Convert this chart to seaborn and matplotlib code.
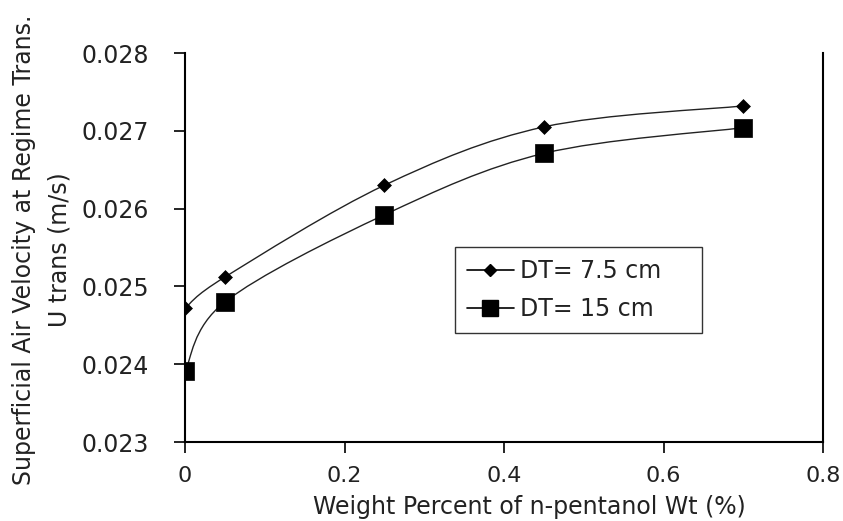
import numpy as np
import pandas as pd
import matplotlib
matplotlib.use("Agg")
import matplotlib.pyplot as plt
from matplotlib.path import Path
from matplotlib.patches import PathPatch
from matplotlib.lines import Line2D
import seaborn as sns

# ---- data ----
wt_percent = [0.0, 0.05, 0.25, 0.45, 0.70]
u_dt_7_5 = [0.02472, 0.02512, 0.02630, 0.02705, 0.02732]
u_dt_15 = [0.02391, 0.02480, 0.02592, 0.02671, 0.02704]
series_labels = ["DT= 7.5 cm", "DT= 15 cm"]
x_ticks = [0, 0.2, 0.4, 0.6, 0.8]
x_tick_labels = ["0", "0.2", "0.4", "0.6", "0.8"]
y_ticks = [0.023, 0.024, 0.025, 0.026, 0.027, 0.028]
y_tick_labels = ["0.023", "0.024", "0.025", "0.026", "0.027", "0.028"]

sns.set_theme(style="white")
plt.rcParams["font.family"] = ["DejaVu Sans"]

fig = plt.figure(figsize=(8.43, 5.21), dpi=100)
ax = fig.add_axes([185/843, 79/521, 638/843, 389/521])


def smooth_path(xs, ys):
    pts = np.column_stack([xs, ys]).astype(float)
    n = len(pts)
    verts = [pts[0]]
    codes = [Path.MOVETO]
    for i in range(n - 1):
        p_prev = pts[i - 1] if i > 0 else pts[i]
        p0 = pts[i]
        p1 = pts[i + 1]
        p_next = pts[i + 2] if i + 2 < n else pts[i + 1]
        c1 = p0 + (p1 - p_prev) / 6.0
        c2 = p1 - (p_next - p0) / 6.0
        verts += [c1, c2, p1]
        codes += [Path.CURVE4] * 3
    return Path(verts, codes)


for ys in (u_dt_7_5, u_dt_15):
    ax.add_patch(PathPatch(smooth_path(wt_percent, ys), facecolor="none",
                           edgecolor="#222222", lw=1.0, zorder=2))

df1 = pd.DataFrame({"x": wt_percent, "y": u_dt_7_5})
df2 = pd.DataFrame({"x": wt_percent, "y": u_dt_15})
sns.scatterplot(data=df1, x="x", y="y", ax=ax, marker="D", s=50,
                color="black", edgecolor="black", linewidth=0.5, zorder=3,
                legend=False)
sns.scatterplot(data=df2, x="x", y="y", ax=ax, marker="s", s=150,
                color="black", edgecolor="black", linewidth=0.5, zorder=3,
                legend=False)

ax.set_xlim(0, 0.8)
ax.set_ylim(0.023, 0.028)
ax.set_xticks(x_ticks)
ax.set_xticklabels(x_tick_labels)
ax.set_yticks(y_ticks)
ax.set_yticklabels(y_tick_labels)
ax.set_xlabel("")
ax.set_ylabel("")

for side in ("left", "bottom", "right"):
    ax.spines[side].set_visible(True)
    ax.spines[side].set_color("black")
    ax.spines[side].set_linewidth(1.5)
ax.spines["top"].set_visible(False)

ax.tick_params(axis="both", which="major", direction="out", length=8,
               width=1.2, color="black", labelsize=17, labelcolor="#222222")
ax.tick_params(axis="y", pad=18, left=True)
ax.tick_params(axis="x", pad=9, bottom=True, labelsize=16)

fig.text(529/843, 1 - 507/521,
         "Weight Percent of n-pentanol Wt (%)", ha="center", va="center",
         fontsize=17, color="#222222")
fig.text(24/843, 1 - 250/521, "Superficial Air Velocity at Regime Trans.",
         rotation=90, ha="center", va="center", fontsize=17, color="#222222")
fig.text(60/843, 1 - 250/521, "U trans (m/s)",
         rotation=90, ha="center", va="center", fontsize=17, color="#222222")

handles = [
    Line2D([0], [0], color="black", lw=1.2, marker="D", markersize=6),
    Line2D([0], [0], color="black", lw=1.2, marker="s", markersize=11),
]
leg = ax.legend(handles, series_labels, loc="lower left",
                bbox_to_anchor=(0.423, 0.28, 0.387, 0.24), mode="expand",
                fontsize=17, frameon=True, fancybox=False, shadow=False,
                handlelength=2.0, handletextpad=0.25, borderpad=0.5,
                labelspacing=0.6, borderaxespad=0)
leg.get_frame().set_edgecolor("black")
leg.get_frame().set_linewidth(1.0)
for t in leg.get_texts():
    t.set_color("#222222")

fig.savefig("out.png", dpi=100)
